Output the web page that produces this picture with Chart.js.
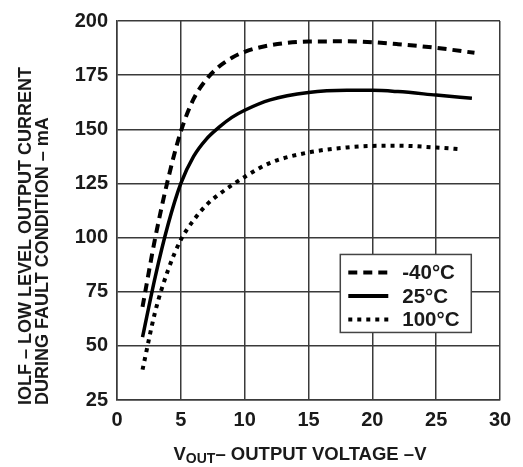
<!DOCTYPE html>
<html>
<head>
<meta charset="utf-8">
<script src="https://cdn.jsdelivr.net/npm/chart.js@4/dist/chart.umd.min.js"></script>
<style>
	html, body { margin: 0; padding: 0; background: #fff; }
	#wrap { width: 523px; height: 467px; }
</style>
</head>
<body>
<div id="wrap"><canvas id="chartIolf" width="523" height="467"></canvas></div>
<script>
// IOLF vs VOUT, three temperatures
const seriesLabels = ['-40°C', '25°C', '100°C'];

const vout40 = [2, 3, 4, 5, 6, 7, 8, 9, 10, 12, 15, 18, 20, 22, 25, 28];
const iolf40 = [68, 100, 127, 149, 164, 173, 179, 183, 185.8, 188.8, 190.5, 190.6, 190.2, 189.3, 187.6, 185.3];

const vout25 = [2, 3, 4, 5, 6, 7, 8, 9, 10, 12, 15, 18, 20, 22, 25, 27.8];
const iolf25 = [54, 82, 106, 125, 137.5, 145.5, 151, 155.5, 158.8, 163.6, 167, 168, 168, 167.4, 165.8, 164.3];

const vout100 = [2, 3, 4, 5, 6, 7, 8, 10, 12, 15, 18, 20, 22, 25, 27];
const iolf100 = [39, 66, 85, 99, 108, 115, 120, 128, 134.5, 139.3, 141.6, 142.3, 142.4, 141.6, 140.8];

const xTicks = [0, 5, 10, 15, 20, 25, 30];
const yTicks = [25, 50, 75, 100, 125, 150, 175, 200];

const yTitleLines = ['IOLF \u2013 LOW LEVEL OUTPUT CURRENT', 'DURING FAULT CONDITION \u2013 mA'];

const FONT = '"Liberation Sans", Arial, sans-serif';
const INK = '#1a1a1a';
const GRID = '#3a3a3a';

function pts(xs, ys) {
	return xs.map((x, i) => ({ x: x, y: ys[i] }));
}

// titles + in-plot legend
const decorPlugin = {
	id: 'decor',
	afterDraw(chart) {
		const ctx = chart.ctx;
		const area = chart.chartArea;
		ctx.save();
		ctx.fillStyle = INK;

		// y title, two rotated lines, bottom aligned
		ctx.font = 'bold 18px ' + FONT;
		ctx.textBaseline = 'middle';
		ctx.textAlign = 'left';
		const xs = [26, 43];
		yTitleLines.forEach((t, i) => {
			ctx.save();
			ctx.translate(xs[i], area.bottom + 5);
			ctx.rotate(-Math.PI / 2);
			ctx.fillText(t, 0, 0);
			ctx.restore();
		});

		// x title with subscript OUT
		const big = 'bold 18.5px ' + FONT;
		const small = 'bold 14px ' + FONT;
		const parts = [
			{ t: 'V', f: big, dy: 0 },
			{ t: 'OUT', f: small, dy: 3 },
			{ t: '\u2013 OUTPUT VOLTAGE \u2013V', f: big, dy: 0 }
		];
		let total = 0;
		parts.forEach(p => { ctx.font = p.f; p.w = ctx.measureText(p.t).width; total += p.w; });
		let x = 300 - total / 2;
		const base = 460;
		ctx.textBaseline = 'alphabetic';
		parts.forEach(p => {
			ctx.font = p.f;
			ctx.fillText(p.t, x, base + p.dy);
			x += p.w;
		});

		// legend box
		const bx = area.left + (area.right - area.left) * 0.583;
		const by = area.top + (area.bottom - area.top) * 0.616;
		const bw = 131, bh = 78;
		ctx.fillStyle = '#fff';
		ctx.fillRect(bx, by, bw, bh);
		ctx.strokeStyle = '#444';
		ctx.lineWidth = 1.5;
		ctx.strokeRect(bx, by, bw, bh);

		chart.data.datasets.forEach((ds, i) => {
			const ly = by + 18 + i * 23.5;
			ctx.beginPath();
			ctx.setLineDash(ds.borderDash || []);
			ctx.lineWidth = 4;
			ctx.lineCap = 'butt';
			ctx.strokeStyle = '#000';
			ctx.moveTo(bx + 8, ly);
			ctx.lineTo(bx + 48, ly);
			ctx.stroke();
			ctx.setLineDash([]);
			ctx.fillStyle = INK;
			ctx.font = 'bold 20.5px ' + FONT;
			ctx.textBaseline = 'middle';
			ctx.textAlign = 'left';
			ctx.fillText(ds.label, bx + 62, ly + 1);
		});
		ctx.restore();
	}
};

const chart = new Chart(document.getElementById('chartIolf'), {
	type: 'scatter',
	data: {
		datasets: [
			{ label: seriesLabels[0], data: pts(vout40, iolf40), borderDash: [9, 6], borderWidth: 4 },
			{ label: seriesLabels[1], data: pts(vout25, iolf25), borderDash: [], borderWidth: 3.5 },
			{ label: seriesLabels[2], data: pts(vout100, iolf100), borderDash: [4, 5], borderWidth: 4 }
		].map(d => Object.assign(d, {
			showLine: true,
			borderColor: '#000',
			backgroundColor: '#000',
			pointRadius: 0,
			cubicInterpolationMode: 'monotone',
			borderCapStyle: 'butt',
			fill: false
		}))
	},
	options: {
		responsive: false,
		animation: false,
		layout: { padding: { top: 17, right: 23, left: 0, bottom: 0 } },
		plugins: { legend: { display: false }, tooltip: { enabled: false } },
		scales: {
			x: {
				type: 'linear',
				min: 0, max: 30,
				afterBuildTicks: s => { s.ticks = xTicks.map(v => ({ value: v })); },
				afterFit: s => { s.height = 67; },
				grid: { color: GRID, lineWidth: 1.5, drawTicks: false },
				border: { color: GRID, width: 1.5 },
				ticks: { color: INK, padding: 8, font: { family: FONT, size: 20, weight: 'bold' } }
			},
			y: {
				type: 'linear',
				min: 25, max: 200,
				afterBuildTicks: s => { s.ticks = yTicks.map(v => ({ value: v })); },
				afterFit: s => { s.width = 117; },
				grid: { color: GRID, lineWidth: 1.5, drawTicks: false },
				border: { color: GRID, width: 1.5 },
				ticks: { color: INK, padding: 9, font: { family: FONT, size: 20, weight: 'bold' } }
			}
		}
	},
	plugins: [decorPlugin]
});
</script>
</body>
</html>
